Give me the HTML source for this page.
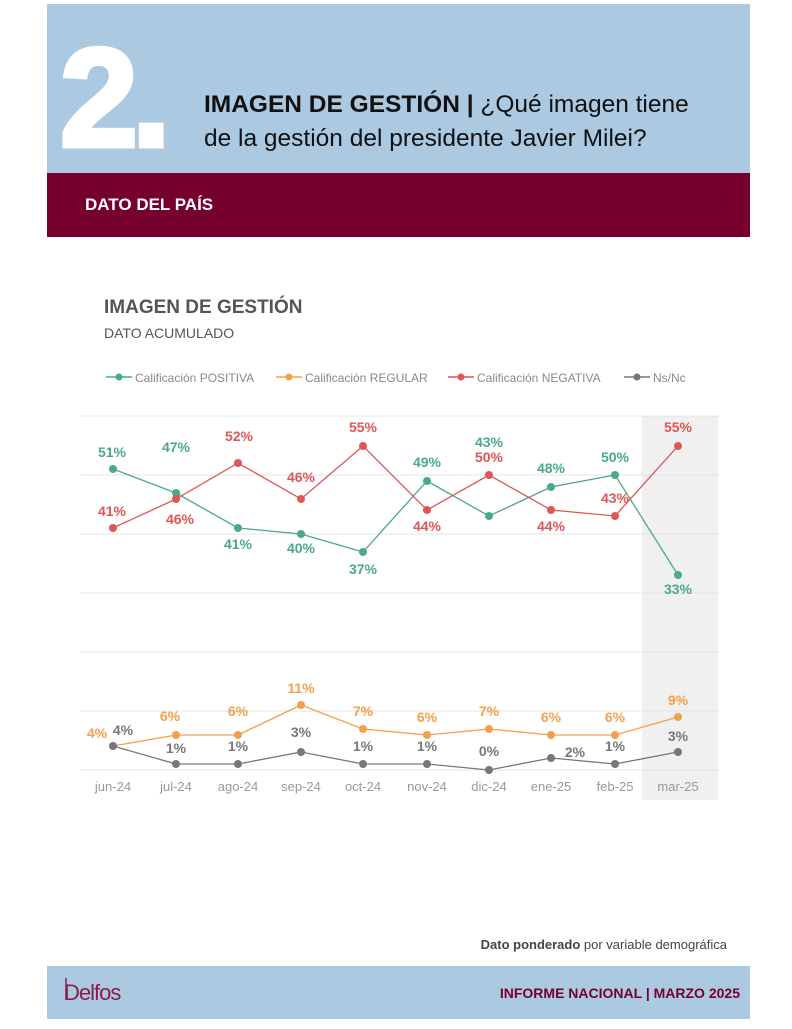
<!DOCTYPE html>
<html><head><meta charset="utf-8"><style>
body{margin:0;width:792px;height:1024px;background:#fff;overflow:hidden;font-family:"Liberation Sans",sans-serif}
</style></head><body>
<svg width="792" height="1024" viewBox="0 0 792 1024" xmlns="http://www.w3.org/2000/svg" font-family="Liberation Sans, sans-serif">
<rect x="47" y="4" width="703" height="170" fill="#abc9e1"/>
<rect x="47" y="173" width="703" height="64" fill="#76002d"/>
<text x="60" y="146" font-size="140" font-weight="bold" fill="#fff" stroke="#fff" stroke-width="5" letter-spacing="-6">2.</text>
<text x="204" y="112" font-size="24.5" fill="#111"><tspan font-weight="bold">IMAGEN DE GESTIÓN |</tspan> ¿Qué imagen tiene</text>
<text x="204" y="146" font-size="24.5" fill="#111">de la gestión del presidente Javier Milei?</text>
<text x="85" y="210" font-size="17" font-weight="bold" fill="#fff">DATO DEL PAÍS</text>

<text x="104" y="313" font-size="19" font-weight="bold" fill="#555">IMAGEN DE GESTIÓN</text>
<text x="104" y="338" font-size="14" fill="#555">DATO ACUMULADO</text>

<g font-size="12" fill="#888">
<line x1="106" y1="377" x2="132" y2="377" stroke="#4aa88d" stroke-width="1.5"/><circle cx="119" cy="377" r="3.5" fill="#4aa88d"/><text x="135" y="382">Calificación POSITIVA</text>
<line x1="276" y1="377" x2="302" y2="377" stroke="#f4a04a" stroke-width="1.5"/><circle cx="289" cy="377" r="3.5" fill="#f4a04a"/><text x="305" y="382">Calificación REGULAR</text>
<line x1="448" y1="377" x2="474" y2="377" stroke="#e05555" stroke-width="1.5"/><circle cx="461" cy="377" r="3.5" fill="#e05555"/><text x="477" y="382">Calificación NEGATIVA</text>
<line x1="624" y1="377" x2="650" y2="377" stroke="#777" stroke-width="1.5"/><circle cx="637" cy="377" r="3.5" fill="#777"/><text x="653" y="382">Ns/Nc</text>
</g>

<rect x="642" y="416" width="76" height="384" fill="#f0f0f0"/>
<g stroke="#e4e4e4" stroke-width="1">
<line x1="80" y1="416" x2="720" y2="416"/><line x1="80" y1="475" x2="720" y2="475"/><line x1="80" y1="534" x2="720" y2="534"/><line x1="80" y1="593" x2="720" y2="593"/><line x1="80" y1="652" x2="720" y2="652"/><line x1="80" y1="711" x2="720" y2="711"/><line x1="80" y1="770" x2="720" y2="770"/>
</g>
<g font-size="13" fill="#999" text-anchor="middle">
<text x="113" y="791">jun-24</text><text x="176" y="791">jul-24</text><text x="238" y="791">ago-24</text><text x="301" y="791">sep-24</text><text x="363" y="791">oct-24</text><text x="427" y="791">nov-24</text><text x="489" y="791">dic-24</text><text x="551" y="791">ene-25</text><text x="615" y="791">feb-25</text><text x="678" y="791">mar-25</text>
</g>

<polyline fill="none" stroke="#4aa88d" stroke-width="1.3" points="113,469 176,493 238,528 301,534 363,552 427,481 489,516 551,487 615,475 678,575"/>
<polyline fill="none" stroke="#e05555" stroke-width="1.3" points="113,528 176,499 238,463 301,499 363,446 427,510 489,475 551,510 615,516 678,446"/>
<polyline fill="none" stroke="#f4a04a" stroke-width="1.3" points="113,746 176,735 238,735 301,705 363,729 427,735 489,729 551,735 615,735 678,717"/>
<polyline fill="none" stroke="#777" stroke-width="1.3" points="113,746 176,764 238,764 301,752 363,764 427,764 489,770 551,758 615,764 678,752"/>
<g fill="#4aa88d"><circle cx="113" cy="469" r="4"/><circle cx="176" cy="493" r="4"/><circle cx="238" cy="528" r="4"/><circle cx="301" cy="534" r="4"/><circle cx="363" cy="552" r="4"/><circle cx="427" cy="481" r="4"/><circle cx="489" cy="516" r="4"/><circle cx="551" cy="487" r="4"/><circle cx="615" cy="475" r="4"/><circle cx="678" cy="575" r="4"/></g>
<g fill="#e05555"><circle cx="113" cy="528" r="4"/><circle cx="176" cy="499" r="4"/><circle cx="238" cy="463" r="4"/><circle cx="301" cy="499" r="4"/><circle cx="363" cy="446" r="4"/><circle cx="427" cy="510" r="4"/><circle cx="489" cy="475" r="4"/><circle cx="551" cy="510" r="4"/><circle cx="615" cy="516" r="4"/><circle cx="678" cy="446" r="4"/></g>
<g fill="#f4a04a"><circle cx="113" cy="746" r="4"/><circle cx="176" cy="735" r="4"/><circle cx="238" cy="735" r="4"/><circle cx="301" cy="705" r="4"/><circle cx="363" cy="729" r="4"/><circle cx="427" cy="735" r="4"/><circle cx="489" cy="729" r="4"/><circle cx="551" cy="735" r="4"/><circle cx="615" cy="735" r="4"/><circle cx="678" cy="717" r="4"/></g>
<g fill="#777"><circle cx="113" cy="746" r="4"/><circle cx="176" cy="764" r="4"/><circle cx="238" cy="764" r="4"/><circle cx="301" cy="752" r="4"/><circle cx="363" cy="764" r="4"/><circle cx="427" cy="764" r="4"/><circle cx="489" cy="770" r="4"/><circle cx="551" cy="758" r="4"/><circle cx="615" cy="764" r="4"/><circle cx="678" cy="752" r="4"/></g>

<g font-size="14" font-weight="bold" text-anchor="middle">
<g fill="#4aa88d"><text x="112" y="457">51%</text><text x="176" y="452">47%</text><text x="238" y="549">41%</text><text x="301" y="553">40%</text><text x="363" y="574">37%</text><text x="427" y="467">49%</text><text x="489" y="447">43%</text><text x="551" y="473">48%</text><text x="615" y="462">50%</text><text x="678" y="594">33%</text></g>
<g fill="#e05555"><text x="112" y="516">41%</text><text x="180" y="524">46%</text><text x="239" y="441">52%</text><text x="301" y="482">46%</text><text x="363" y="432">55%</text><text x="427" y="531">44%</text><text x="489" y="462">50%</text><text x="551" y="531">44%</text><text x="615" y="503">43%</text><text x="678" y="432">55%</text></g>
<g fill="#f4a04a"><text x="97" y="738">4%</text><text x="170" y="721">6%</text><text x="238" y="716">6%</text><text x="301" y="693">11%</text><text x="363" y="716">7%</text><text x="427" y="722">6%</text><text x="489" y="716">7%</text><text x="551" y="722">6%</text><text x="615" y="722">6%</text><text x="678" y="705">9%</text></g>
<g fill="#777"><text x="123" y="735">4%</text><text x="176" y="753">1%</text><text x="238" y="751">1%</text><text x="301" y="737">3%</text><text x="363" y="751">1%</text><text x="427" y="751">1%</text><text x="489" y="756">0%</text><text x="575" y="757">2%</text><text x="615" y="751">1%</text><text x="678" y="741">3%</text></g>
</g>

<text x="727" y="949" font-size="13" fill="#444" text-anchor="end"><tspan font-weight="bold">Dato ponderado</tspan> por variable demográfica</text>
<rect x="47" y="966" width="703" height="53" fill="#abc9e1"/>
<text x="64" y="1000" font-size="22" fill="#8a1e4a" letter-spacing="-1">Delfos</text>
<line x1="66" y1="978" x2="66" y2="1000" stroke="#8a1e4a" stroke-width="1.5"/>
<text x="740" y="998" font-size="14" font-weight="bold" fill="#76002d" text-anchor="end">INFORME NACIONAL | MARZO 2025</text>
</svg>
</body></html>
